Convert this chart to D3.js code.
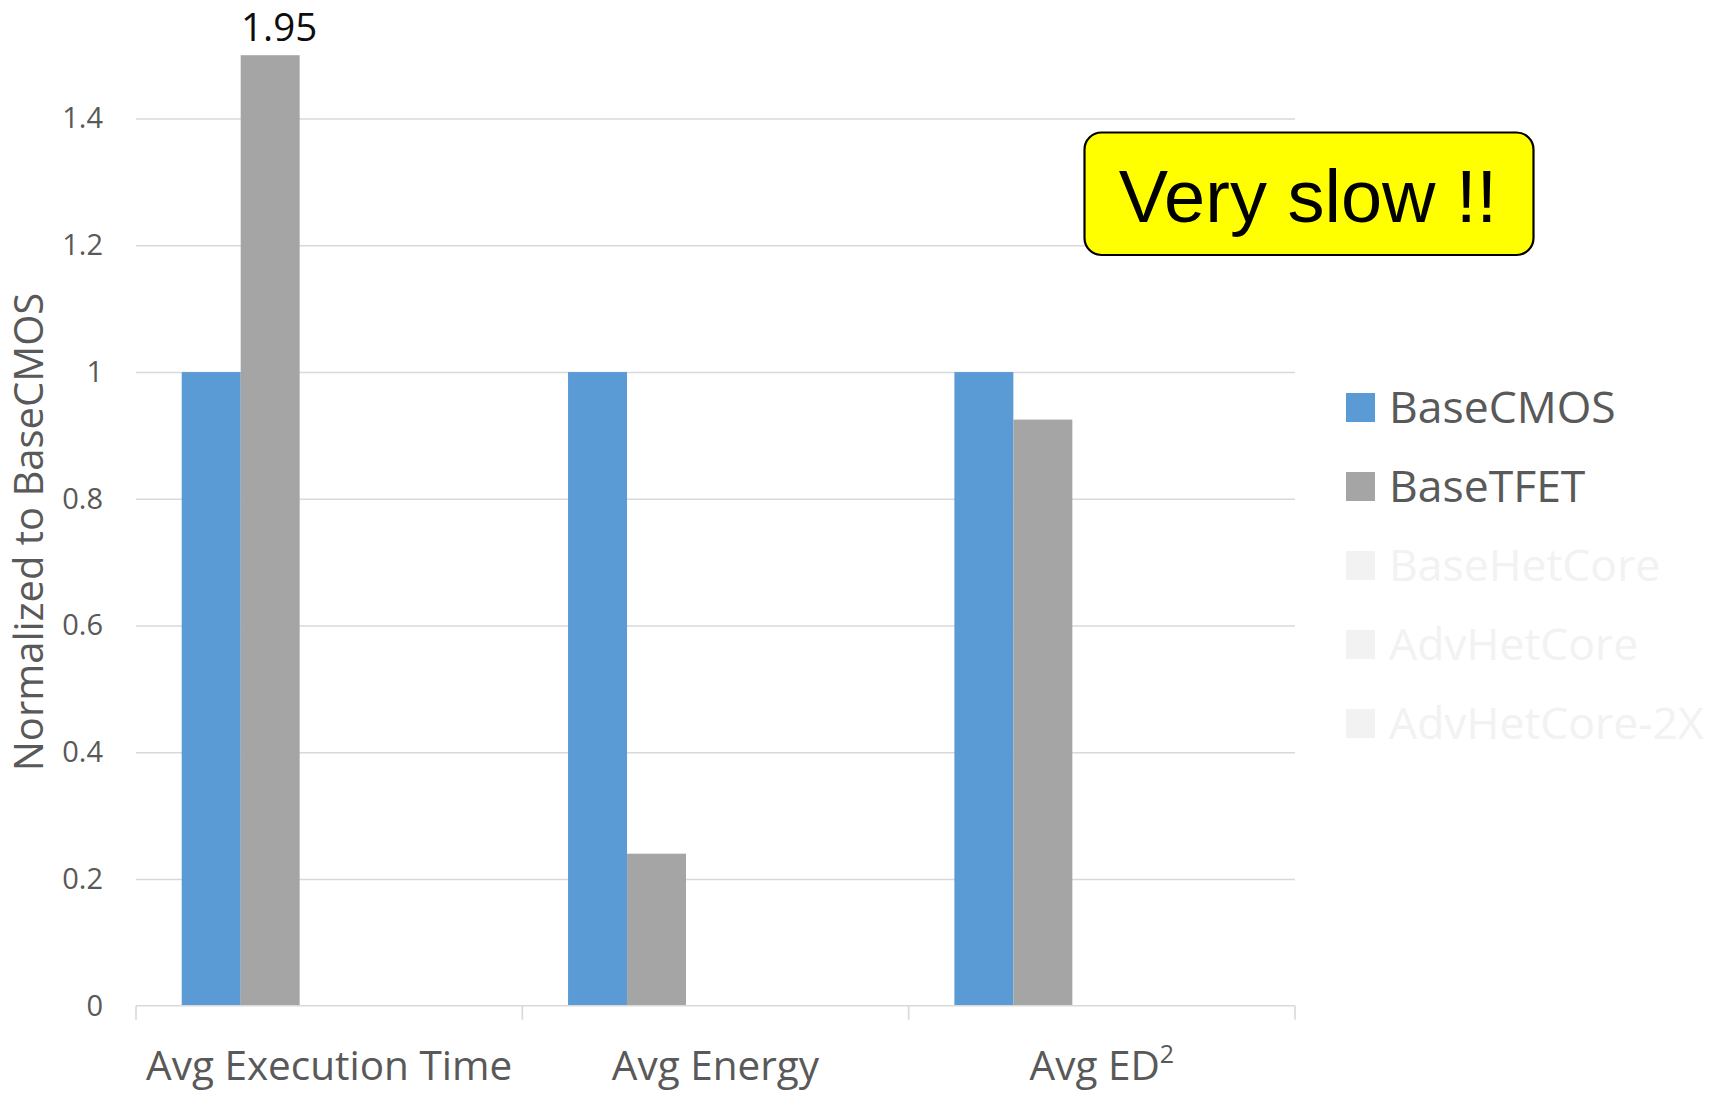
<!DOCTYPE html>
<html>
<head>
<meta charset="utf-8">
<script src="https://cdn.jsdelivr.net/npm/d3@7"></script>
<style>
  html, body { margin: 0; padding: 0; background: #ffffff; }
  svg { display: block; }
</style>
</head>
<body>
<svg id="chart" width="1733" height="1093"></svg>
<script>
// Metrics along the x axis
const categories = ["Avg Execution Time", "Avg Energy", "Avg ED²"];

// Configurations (the last three carry no data in this view)
const seriesNames = ["BaseCMOS", "BaseTFET", "BaseHetCore", "AdvHetCore", "AdvHetCore-2X"];

// Values normalized to BaseCMOS, one per category
const baseCMOS = [1, 1, 1];
const baseTFET = [1.95, 0.24, 0.925];

// Y axis ticks
const yTicks = [0, 0.2, 0.4, 0.6, 0.8, 1, 1.2, 1.4];

const activeSeries = [
  { name: "BaseCMOS", values: baseCMOS, color: "#5b9bd5" },
  { name: "BaseTFET", values: baseTFET, color: "#a5a5a5" }
];

const W = 1733, H = 1093;
const plot = { left: 136, right: 1295, top: 55.2, bottom: 1005.8 };
const font = "'Open Sans', 'Noto Sans', sans-serif";
const axisText = "#595959";
const gridColor = "#d9d9d9";

const svg = d3.select("#chart");
svg.append("rect").attr("width", W).attr("height", H).attr("fill", "#ffffff");

// Scales
const y = d3.scaleLinear().domain([0, 1.5]).range([plot.bottom, plot.top]).clamp(true);
const x0 = d3.scaleBand().domain(categories).range([plot.left, plot.right]).padding(0);
const x1 = d3.scaleBand().domain(seriesNames).range([0, x0.bandwidth()])
  .paddingInner(0).paddingOuter(0.775);

// Horizontal gridlines
const grid = svg.append("g")
  .attr("transform", `translate(${plot.left},0)`)
  .call(d3.axisLeft(y).tickValues(yTicks.filter(d => d > 0))
    .tickSize(-(plot.right - plot.left)).tickFormat(""));
grid.select(".domain").remove();
grid.selectAll("line").attr("stroke", gridColor).attr("stroke-width", 1.4);

// Y tick labels
const yAxis = svg.append("g")
  .attr("transform", `translate(${plot.left},0)`)
  .call(d3.axisLeft(y).tickValues(yTicks).tickSize(0).tickPadding(33)
    .tickFormat(d3.format("~g")));
yAxis.select(".domain").remove();
yAxis.selectAll("text")
  .attr("fill", axisText)
  .style("font-family", font)
  .style("font-size", "29px");

// Bars
const groups = svg.append("g").selectAll("g")
  .data(categories)
  .join("g")
  .attr("transform", c => `translate(${x0(c)},0)`);

groups.selectAll("rect")
  .data((c, i) => activeSeries.map(s => ({ name: s.name, value: s.values[i], color: s.color })))
  .join("rect")
  .attr("x", d => x1(d.name))
  .attr("width", x1.bandwidth())
  .attr("y", d => y(d.value))
  .attr("height", d => y(0) - y(d.value))
  .attr("fill", d => d.color);

// Value label for the bar that runs past the axis maximum
activeSeries.forEach(s => {
  s.values.forEach((v, i) => {
    if (v > y.domain()[1]) {
      svg.append("text")
        .attr("x", x0(categories[i]) + x1(s.name) + x1.bandwidth() / 2 + 9)
        .attr("y", y(v) - 14)
        .attr("text-anchor", "middle")
        .attr("fill", "#0d0d0d")
        .style("font-family", font)
        .style("font-size", "38.5px")
        .text(d3.format(".2f")(v));
    }
  });
});

// X axis line and category boundary ticks
const xAxis = svg.append("g");
xAxis.append("line")
  .attr("x1", plot.left).attr("x2", plot.right)
  .attr("y1", y(0)).attr("y2", y(0))
  .attr("stroke", gridColor).attr("stroke-width", 1.6);
const boundaries = categories.map(c => x0(c)).concat([x0(categories[categories.length - 1]) + x0.bandwidth()]);
xAxis.selectAll("line.tick")
  .data(boundaries)
  .join("line")
  .attr("class", "tick")
  .attr("x1", d => d).attr("x2", d => d)
  .attr("y1", y(0)).attr("y2", y(0) + 14)
  .attr("stroke", gridColor).attr("stroke-width", 1.6);

// Category labels (a trailing ² is set as a superscript)
const catLabels = xAxis.selectAll("text.cat")
  .data(categories)
  .join("text")
  .attr("class", "cat")
  .attr("x", c => x0(c) + x0.bandwidth() / 2)
  .attr("y", 1080)
  .attr("text-anchor", "middle")
  .attr("fill", axisText)
  .style("font-family", font)
  .style("font-size", "40.5px");
catLabels.each(function (c) {
  const t = d3.select(this);
  if (c.endsWith("²")) {
    t.append("tspan").text(c.slice(0, -1));
    t.append("tspan").attr("dy", -17).style("font-size", "25px").text("2");
  } else {
    t.text(c);
  }
});

// Y axis title
svg.append("text")
  .attr("transform", `translate(43,${532}) rotate(-90)`)
  .attr("text-anchor", "middle")
  .attr("fill", axisText)
  .style("font-family", font)
  .style("font-size", "40px")
  .text("Normalized to BaseCMOS");

// Legend
const legend = svg.append("g").attr("transform", "translate(1346,393)");
const legendItems = legend.selectAll("g")
  .data(seriesNames)
  .join("g")
  .attr("transform", (d, i) => `translate(0,${i * 79})`);
const seriesColor = name => {
  const s = activeSeries.find(a => a.name === name);
  return s ? s.color : "#f2f2f2";
};
legendItems.append("rect")
  .attr("width", 29).attr("height", 29)
  .attr("fill", d => seriesColor(d));
legendItems.append("text")
  .attr("x", 43).attr("y", 30)
  .attr("fill", d => activeSeries.find(a => a.name === d) ? axisText : "#f2f2f2")
  .style("font-family", font)
  .style("font-size", "44.5px")
  .text(d => d);

// Callout box
const callout = svg.append("g");
callout.append("rect")
  .attr("x", 1084.5).attr("y", 132.5)
  .attr("width", 449).attr("height", 122.5)
  .attr("rx", 17).attr("ry", 17)
  .attr("fill", "#ffff00")
  .attr("stroke", "#000000").attr("stroke-width", 2.2);
callout.append("text")
  .attr("x", 1308).attr("y", 221.5)
  .attr("text-anchor", "middle")
  .attr("fill", "#000000")
  .style("font-family", "'Liberation Sans', Arial, sans-serif")
  .style("font-size", "74px")
  .text("Very slow !!");
</script>
</body>
</html>
